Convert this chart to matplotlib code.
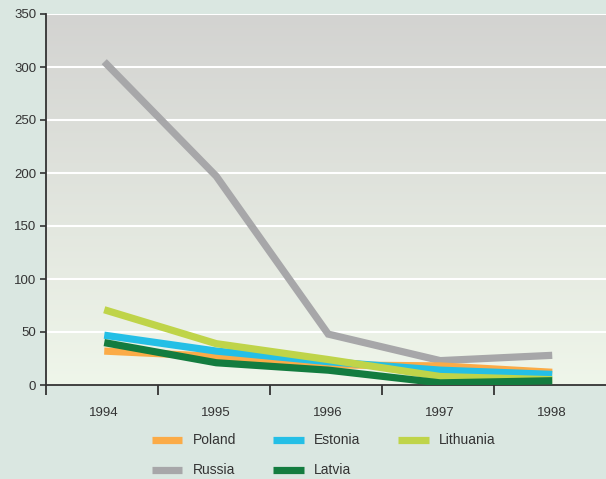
import numpy as np
import matplotlib
matplotlib.use("Agg")
import matplotlib.pyplot as plt
from matplotlib.colors import LinearSegmentedColormap

years = ["1994", "1995", "1996", "1997", "1998"]
poland = [32, 27, 19, 18, 12]
estonia = [47, 32, 22, 14, 10]
lithuania = [71, 39, 24, 8, 5]
russia = [305, 197, 48, 23, 28]
latvia = [40, 21, 14, 2, 4]

plt.rcParams['font.family'] = ['Liberation Sans', 'DejaVu Sans']

fig = plt.figure(figsize=(6.06, 4.79), dpi=100)
fig.patch.set_facecolor('#dae7e1')
ax = fig.add_axes([46/606, 94/479, 1 - 46/606, 371/479])

# gradient background: gray on top, pale green at the bottom
cmap = LinearSegmentedColormap.from_list('bg', ['#eff6ea', '#d3d3d1'])
grad = np.linspace(0, 1, 256).reshape(-1, 1)
ax.imshow(grad, cmap=cmap, aspect='auto', extent=[0, 1, 0, 1],
          origin='lower', transform=ax.transAxes, zorder=0)

x = np.arange(len(years)) + 0.52
series = [
    ("Russia", russia, '#a7a7a9'),
    ("Poland", poland, '#fbab47'),
    ("Estonia", estonia, '#24bfe6'),
    ("Lithuania", lithuania, '#bfd449'),
    ("Latvia", latvia, '#137c3f'),
]
handles = {}
for name, vals, col in series:
    ln, = ax.plot(x, vals, color=col, lw=5.2, solid_capstyle='butt',
                  solid_joinstyle='miter', zorder=3, label=name)
    handles[name] = ln

ax.set_xlim(0, 5)
ax.set_ylim(0, 350)
ax.set_yticks(range(0, 351, 50))
ax.yaxis.grid(True, color='white', lw=1.5, zorder=1)
ax.set_axisbelow(True)

ax.set_xticks(range(0, 5))
ax.set_xticklabels([])
ax.set_xticks(x, minor=True)
ax.set_xticklabels(years, minor=True)
ax.tick_params(axis='x', which='major', length=7, width=1.3, direction='out', color='#333333')
ax.tick_params(axis='x', which='minor', length=0, pad=16, labelsize=9.5, labelcolor='#333333')
ax.tick_params(axis='y', length=4, width=1.2, color='#333333', labelsize=9.5, labelcolor='#333333', pad=3)

for s in ['top', 'right']:
    ax.spines[s].set_visible(False)
for s in ['left', 'bottom']:
    ax.spines[s].set_color('#333333')
    ax.spines[s].set_linewidth(1.3)

order = ["Poland", "Russia", "Estonia", "Latvia", "Lithuania"]
leg = fig.legend([handles[n] for n in order], order, ncol=3,
                 loc='upper left', bbox_to_anchor=(139/606, 1 - 421/479),
                 frameon=False, fontsize=10, handlelength=2.2,
                 handletextpad=0.75, columnspacing=2.7, labelspacing=1.15,
                 labelcolor='#333333')

fig.savefig("out.png", dpi=100, facecolor=fig.get_facecolor())
